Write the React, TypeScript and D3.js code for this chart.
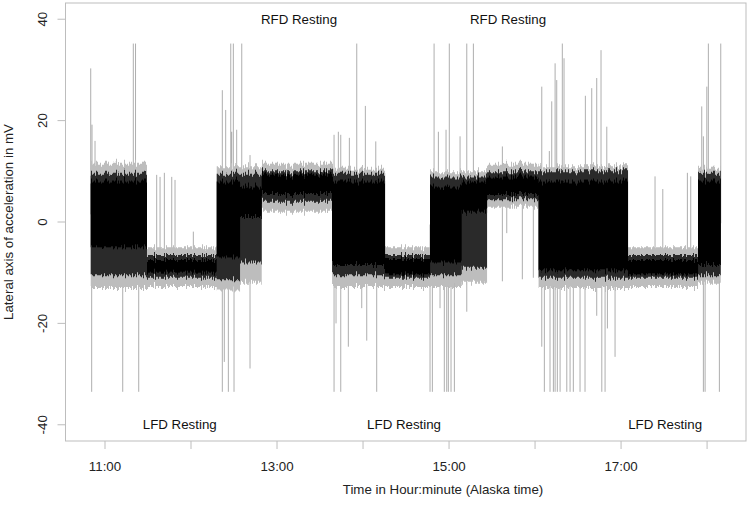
import React from 'react';
import * as d3 from 'd3';

// behaviour segments (decimal hours, Alaska time) and band envelopes in mV
const segStart = [10.834, 11.488, 12.299, 12.57, 12.822, 13.64, 14.256, 14.779, 15.148, 15.442, 16.041, 17.081, 17.895];
const segEnd = 18.159;
const outerHi = [11.5, -5, 11, 11, 11.5, 10.5, -5, 10, 10, 11.5, 11, -5, 10.5];
const innerHi = [9.5, -6.5, 9.5, 9.5, 10, 9.5, -6.5, 9, 9, 10, 10, -6.5, 9.5];
const coreHi = [8, -7.5, 8, 7, 9.3, 8, -7.3, 7, 8, 9, 8, -7.5, 8];
const coreLo = [-5, -10, -7, 1, 5.5, -8.5, -10.3, -8, 2, 5.5, -9.5, -10.3, -8.5];
const innerLo = [-10.5, -11, -11.5, -8, 4, -10.5, -11, -10.5, -9, 4.5, -11, -11, -10.5];
const outerLo = [-13, -12.8, -13.5, -12, 2, -12.8, -12.8, -12.8, -12, 3, -13, -12.8, -12];

// isolated excursions
const spikeTime = [
  10.834, 10.849, 10.884, 11.329, 11.355, 11.601, 11.64, 11.69, 11.776, 11.814, 12.027,
  12.364, 12.403, 12.462, 12.492, 12.473, 12.531, 12.59, 12.686,
  13.663, 13.713, 13.741, 13.841, 13.927, 14.027, 14.148,
  14.826, 14.876, 14.965, 15.003, 15.128, 15.206, 15.283, 15.62,
  16.078, 16.166, 16.194, 16.233, 16.252, 16.317, 16.337, 16.585, 16.659, 16.717, 16.767, 16.834,
  17.395, 17.485, 17.771, 17.81, 17.938, 17.957, 17.997, 18.015, 18.159,
  10.845, 11.206, 11.392, 12.364, 12.387, 12.434, 12.5, 12.686,
  13.663, 13.686, 13.741, 13.829, 13.985, 14.043, 14.159,
  14.779, 14.806, 14.895, 14.945, 14.973, 14.992, 15.023, 15.062, 15.206,
  15.62, 15.671, 15.852, 15.98,
  16.078, 16.108, 16.174, 16.213, 16.233, 16.259, 16.291, 16.369, 16.407, 16.445, 16.523, 16.581,
  16.717, 16.776, 16.814, 16.841, 16.93, 17.957, 17.977, 18.143,
];
const spikeValue = [
  30.3, 19.2, 16, 35.2, 35.2, 9.3, 8.9, 9.7, 8.9, 8.3, -1.9,
  26, 22.1, 35.2, 35.2, 17.8, 18.2, 35.2, 13.2,
  17.2, 17.8, 17.2, 16.6, 35.2, 22.9, 15.9,
  35.2, 17.8, 18.2, 35.2, 16.9, 35.2, 35.2, 14.9,
  26.7, 14, 23.8, 31.3, 28, 35.2, 32.3, 24.9, 26.4, 28.4, 33.9, 18.8,
  9, 6.5, 9.7, 9, 22.8, 16.9, 26.7, 35.2, 35.2,
  -33.5, -33.5, -33.5, -33.5, -27.6, -33.5, -33.5, -28.9,
  -33.5, -20, -33.5, -24.6, -17, -23.4, -33.5,
  -33.5, -33.5, -17, -33.5, -33.5, -33.5, -33.5, -33.5, -17.7,
  -11.7, -2.2, -11.3, -11,
  -24.6, -33.5, -33.5, -33.5, -33.5, -33.5, -33.5, -33.5, -33.5, -33.5, -33.5, -33.5,
  -18.5, -33.5, -33.5, -21, -26.6, -33.5, -33.5, -33.5,
];

const hourTicks = [11, 12, 13, 14, 15, 16, 17, 18];
const hourLabels = ['11:00', '', '13:00', '', '15:00', '', '17:00', ''];
const yTicks = [-40, -20, 0, 20, 40];

const noteText = ['RFD Resting', 'RFD Resting', 'LFD Resting', 'LFD Resting', 'LFD Resting'];
const noteTime = [13.256, 15.686, 11.869, 14.477, 17.512];
const noteValue = [40, 40, -40, -40, -40];

const W = 750;
const H = 509;
const plot = { left: 65.5, right: 746, top: 3, bottom: 441 };
const font = 'Liberation Sans, Arial, Helvetica, sans-serif';

const App: React.FC = () => {
  const x = d3.scaleLinear().domain([10.5407, 18.4525]).range([plot.left, plot.right]);
  const y = d3.scaleLinear().domain([-43.2, 43.2]).range([plot.bottom, plot.top]);

  const pts = segStart.map((t, i) => ({ t, i })).concat([{ t: segEnd, i: segStart.length - 1 }]);
  const band = (hi: number[], lo: number[]) =>
    d3.area<{ t: number; i: number }>()
      .x(d => x(d.t))
      .y0(d => y(lo[d.i]))
      .y1(d => y(hi[d.i]))
      .curve(d3.curveStepAfter)(pts) || '';

  const segIndexAt = (t: number) => {
    const k = d3.bisectRight(segStart, t) - 1;
    return Math.max(0, Math.min(segStart.length - 1, k));
  };

  return (
    <svg width={W} height={H} style={{ position: 'absolute', left: 0, top: 0, background: '#fff' }} fontFamily={font}>
      <defs>
        {/* vertical streak texture so the dense trace edges look like the sampled signal */}
        <filter id="streak" x="-2%" y="-20%" width="104%" height="140%">
          <feTurbulence type="fractalNoise" baseFrequency="0.9 0.004" numOctaves={2} seed={3} result="n" />
          <feColorMatrix in="n" type="matrix"
            values="0 0 0 0 0.5  0 1 0 0 0  0 0 1 0 0  0 0 0 0 1" result="m" />
          <feDisplacementMap in="SourceGraphic" in2="m" scale={14} xChannelSelector="R" yChannelSelector="G" />
        </filter>
      </defs>

      {/* spikes behind the band */}
      <g stroke="#000" strokeOpacity={0.32} strokeWidth={1}>
        {spikeTime.map((t, k) => {
          const i = segIndexAt(t);
          const base = (coreHi[i] + coreLo[i]) / 2;
          return <line key={k} x1={x(t)} x2={x(t)} y1={y(base)} y2={y(spikeValue[k])} />;
        })}
      </g>
      <g filter="url(#streak)">
        <path d={band(outerHi, outerLo)} fill="#bdbdbd" />
        <path d={band(innerHi, innerLo)} fill="#2a2a2a" />
        <path d={band(coreHi, coreLo)} fill="#000" />
      </g>

      {/* frame */}
      <rect x={plot.left} y={plot.top} width={plot.right - plot.left} height={plot.bottom - plot.top}
        fill="none" stroke="#bdbdbd" strokeWidth={1} />

      {/* x axis */}
      <g stroke="#bdbdbd">
        {hourTicks.map(h => (
          <line key={h} x1={x(h)} x2={x(h)} y1={plot.bottom} y2={plot.bottom + 8} />
        ))}
      </g>
      <g fontSize={13.3} fill="#222" textAnchor="middle">
        {hourTicks.map((h, k) => (
          <text key={h} x={x(h)} y={470.5}>{hourLabels[k]}</text>
        ))}
      </g>
      <text x={443} y={494} fontSize={13.3} fill="#222" textAnchor="middle">Time in Hour:minute (Alaska time)</text>

      {/* y axis */}
      <g stroke="#bdbdbd">
        {yTicks.map(v => (
          <line key={v} x1={plot.left - 8} x2={plot.left} y1={y(v)} y2={y(v)} />
        ))}
      </g>
      <g fontSize={13.3} fill="#222" textAnchor="middle">
        {yTicks.map(v => (
          <text key={v} transform={`translate(46.5,${y(v)}) rotate(-90)`}>{v}</text>
        ))}
      </g>
      <text transform={`translate(13,${(plot.top + plot.bottom) / 2}) rotate(-90)`} fontSize={13.3} fill="#222" textAnchor="middle">
        Lateral axis of acceleration in mV
      </text>

      {/* behaviour notes */}
      <g fontSize={13.3} fill="#111" textAnchor="middle" dominantBaseline="central">
        {noteText.map((s, k) => (
          <text key={k} x={x(noteTime[k])} y={y(noteValue[k])}>{s}</text>
        ))}
      </g>
    </svg>
  );
};

export default App;
